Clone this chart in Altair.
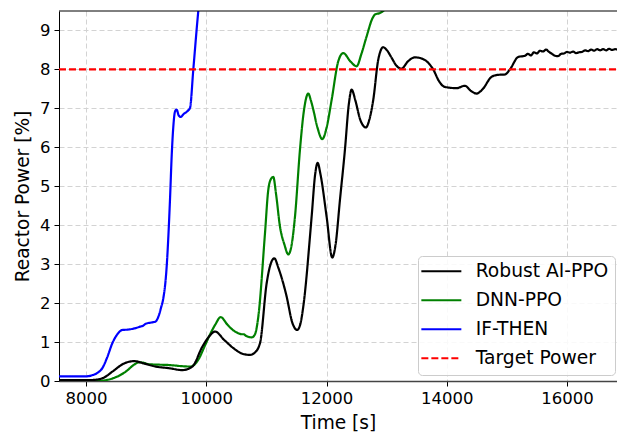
import altair as alt
import pandas as pd

# ---- data ----
t_robust = [7550, 8000, 8200, 8300, 8437, 8632, 8800, 8964, 9158, 9380, 9600, 9767, 9934, 10050, 10145,
            10300, 10488, 10600, 10727, 10800, 10893, 11004, 11060, 11131, 11200, 11336, 11430, 11513, 11570,
            11613, 11752, 11810, 11852, 11900, 12001, 12095, 12150, 12223, 12306, 12370, 12417, 12480, 12560,
            12655, 12710, 12777, 12860, 12943, 13000, 13082, 13160, 13248, 13350, 13470, 13560, 13664, 13774,
            13870, 13968, 14163, 14301, 14400, 14495, 14600, 14745, 14850, 14966, 15050, 15188, 15300, 15350,
            15400, 15450, 15500, 15550, 15600, 15650, 15700, 15750, 15800, 15850, 15900, 15950, 16000, 16050,
            16100, 16150, 16200, 16250, 16300, 16350, 16400, 16450, 16500, 16550, 16600, 16650, 16700, 16750,
            16800, 16850]
p_robust = [0.02, 0.02, 0.04, 0.09, 0.24, 0.45, 0.51, 0.45, 0.37, 0.33, 0.28, 0.37, 0.88, 1.15, 1.27,
            1.05, 0.80, 0.70, 0.67, 0.72, 0.97, 2.51, 2.95, 3.15, 2.90, 2.17, 1.50, 1.31, 1.50,
            1.91, 4.22, 5.30, 5.60, 5.30, 4.22, 3.17, 3.50, 4.65, 5.94, 7.10, 7.48, 7.20, 6.71,
            6.51, 6.70, 7.22, 8.25, 8.57, 8.50, 8.30, 8.10, 8.02, 8.20, 8.31, 8.29, 8.21, 8.00,
            7.70, 7.55, 7.52, 7.58, 7.45, 7.38, 7.50, 7.81, 7.86, 7.87, 8.00, 8.32, 8.35, 8.40,
            8.36, 8.44, 8.41, 8.48, 8.46, 8.51, 8.45, 8.40, 8.35, 8.34, 8.40, 8.41, 8.45, 8.43,
            8.46, 8.42, 8.44, 8.45, 8.49, 8.47, 8.51, 8.48, 8.52, 8.49, 8.52, 8.49, 8.53, 8.50,
            8.52, 8.50]

t_dnn = [7550, 8200, 8382, 8500, 8660, 8800, 8881, 8950, 9047, 9200, 9380, 9600, 9741, 9820, 9879, 9960,
         10045, 10150, 10239, 10350, 10450, 10544, 10588, 10620, 10660, 10755, 10810, 10865, 10976, 11031,
         11080, 11114, 11160, 11225, 11300, 11364, 11420, 11475, 11558, 11620, 11696, 11740, 11779, 11850,
         11929, 12000, 12085, 12195, 12278, 12400, 12500, 12580, 12667, 12760, 12805, 12888, 12971, 13050]
p_dnn = [0.00, 0.00, 0.04, 0.10, 0.24, 0.42, 0.48, 0.47, 0.43, 0.42, 0.41, 0.38, 0.37, 0.45, 0.58, 0.85,
         1.14, 1.45, 1.64, 1.45, 1.30, 1.22, 1.20, 1.20, 1.16, 1.12, 1.20, 1.65, 3.79, 4.91,
         5.20, 5.24, 4.80, 3.97, 3.50, 3.25, 3.50, 4.22, 5.94, 6.90, 7.38, 7.20, 6.97, 6.50,
         6.21, 6.50, 7.22, 8.21, 8.42, 8.20, 8.08, 8.40, 8.85, 9.30, 9.41, 9.45, 9.55, 9.90]

t_ifthen = [7550, 7800, 8000, 8105, 8200, 8271, 8350, 8437, 8520, 8603, 8700, 8800, 8909, 8950, 8992, 9080,
            9158, 9214, 9250, 9280, 9341, 9396, 9424, 9450, 9480, 9507, 9540, 9574, 9620, 9700, 9729, 9784,
            9867, 9900]
p_ifthen = [0.12, 0.12, 0.12, 0.15, 0.22, 0.33, 0.60, 0.97, 1.20, 1.31, 1.32, 1.35, 1.40, 1.42, 1.47, 1.50,
            1.53, 1.70, 1.90, 2.08, 2.94, 4.65, 5.77, 6.50, 6.92, 6.97, 6.82, 6.78, 6.85, 6.95, 7.01, 8.00,
            9.50, 10.00]

t_target = [7550, 16831]
p_target = [8.0, 8.0]

series_names = ["Robust AI-PPO", "DNN-PPO", "IF-THEN", "Target Power"]
series_colors = ["#000000", "#008000", "#0000ff", "#ff0000"]
series_dashes = [[1, 0], [1, 0], [1, 0], [7, 3]]

x_ticks = [8000, 10000, 12000, 14000, 16000]
y_ticks = [0, 1, 2, 3, 4, 5, 6, 7, 8, 9]
x_domain = [7550, 16831]
y_domain = [0, 9.5]

rows = []
for name, ts, ps in [(series_names[1], t_dnn, p_dnn),
                     (series_names[0], t_robust, p_robust),
                     (series_names[2], t_ifthen, p_ifthen),
                     (series_names[3], t_target, p_target)]:
    for t, p in zip(ts, ps):
        rows.append({"Time": t, "Power": p, "Series": name})
df = pd.DataFrame(rows)

x_scale = alt.Scale(domain=x_domain, nice=False, zero=False)
y_scale = alt.Scale(domain=y_domain, nice=False)

legend = alt.Legend(
    title=None, orient="none", legendX=359, legendY=245,
    symbolType="M-2.5,0H2.5", symbolSize=256, symbolStrokeWidth=2,
    labelFontSize=18.7, labelFont="DejaVu Sans", labelColor="black",
    padding=6, rowPadding=9, symbolOffset=8, labelOffset=25,
    fillColor="rgba(255,255,255,0.85)", strokeColor="#cccccc", cornerRadius=4,
)

lines = alt.Chart(df).mark_line(strokeWidth=2.2, clip=True, interpolate="monotone").encode(
    x=alt.X("Time:Q", scale=x_scale,
            axis=alt.Axis(title="Time [s]", values=x_ticks, format="d", domainColor="#444444", domainWidth=1.5)),
    y=alt.Y("Power:Q", scale=y_scale, axis=alt.Axis(title="Reactor Power [%]", values=y_ticks)),
    color=alt.Color("Series:N", scale=alt.Scale(domain=series_names, range=series_colors), legend=legend),
    strokeDash=alt.StrokeDash("Series:N", scale=alt.Scale(domain=series_names, range=series_dashes), legend=legend),
)

top_spine = alt.Chart(pd.DataFrame({"Power": [y_domain[1]]})).mark_rule(color="black", strokeWidth=1).encode(
    y=alt.Y("Power:Q", scale=y_scale)
)

chart = alt.layer(lines, top_spine).properties(
    width=558, height=370,
    autosize=alt.AutoSizeParams(type="none"),
    padding={"left": 59, "top": 11, "right": 0, "bottom": 55},
).configure(font="DejaVu Sans").configure_view(stroke=None).configure_axis(
    labelFontSize=16.5, titleFontSize=18.6, titleFontWeight="normal",
    labelColor="black", titleColor="black", tickColor="black", domainColor="black",
    tickSize=5, labelPadding=4, titlePadding=7,
    gridDash=[5, 3], gridColor="#d3d3d3", gridWidth=1,
)

chart.save("out.html", embed_options={"renderer": "svg", "actions": False})
